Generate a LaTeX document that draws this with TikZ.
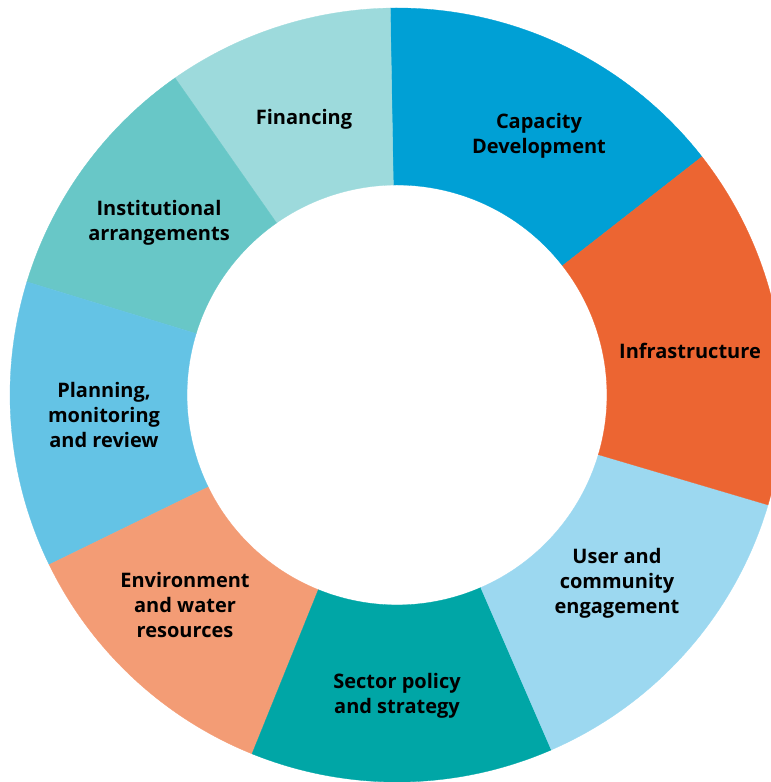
\documentclass[tikz,border=0pt]{standalone}
\usepackage{fontspec}
\setmainfont{Open Sans}
\usepackage{xcolor}
\usepackage{tikz}
\usetikzlibrary{positioning, calc}

\definecolor{capcol}{HTML}{00A0D5}
\definecolor{infcol}{HTML}{EC6532}
\definecolor{usrcol}{HTML}{9CD8F0}
\definecolor{seccol}{HTML}{00A6A6}
\definecolor{envcol}{HTML}{F39C75}
\definecolor{plncol}{HTML}{64C3E5}
\definecolor{inscol}{HTML}{68C7C7}
\definecolor{fincol}{HTML}{9DDADC}

\begin{document}
\begin{tikzpicture}[
    x=1pt, y=1pt,
    lbl/.style={align=center, font=\fontsize{20}{25}\selectfont\bfseries, text=black, inner sep=0pt},
]
\useasboundingbox (0,0) rectangle (771,782);
\clip (0,0) rectangle (771,782);

% ring segments: start angle / end angle / colour
\begin{scope}[shift={(397,387)}]
\foreach \a/\b/\col in {38/91/capcol, 91/125/fincol, 125/163/inscol, 163/206/plncol,
    206/248/envcol, 248/293.5/seccol, 293.5/343.5/usrcol, 343.5/398/infcol}
  \fill[\col, draw=\col, line width=0.3pt] (\a:387) arc[start angle=\a, end angle=\b, radius=387pt]
    -- (\b:210) arc[start angle=\b, end angle=\a, radius=210pt] -- cycle;
\end{scope}

\node[lbl] (CAP) at (539,646) {Capacity\\Development};
\node[lbl] (INF) at (690,431) {Infrastructure};
\node[lbl] (USR) at (617,199) {User and\\community\\engagement};
\node[lbl] (SEC) at (397,86) {Sector policy\\and strategy};
\node[lbl] (ENV) at (185,177) {Environment\\and water\\resources};
\node[lbl] (PLN) at (104,367) {Planning,\\monitoring\\and review};
\node[lbl] (INS) at (159,559) {Institutional\\arrangements};
\node[lbl] (FIN) at (304,663) {Financing};
\end{tikzpicture}
\end{document}
